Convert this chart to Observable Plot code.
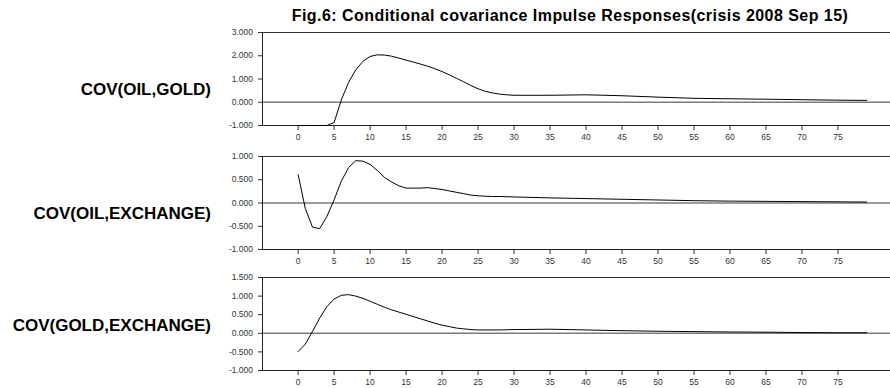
<!DOCTYPE html>
<html>
<head>
<meta charset="utf-8">
<script src="https://cdn.jsdelivr.net/npm/d3@7"></script>
<script src="https://cdn.jsdelivr.net/npm/@observablehq/plot@0.6"></script>
<style>
  body { margin: 0; background: white; }
  #wrap { position: relative; width: 890px; height: 388px; overflow: hidden; background: white; font-family: "Liberation Sans", Arial, sans-serif; }
  .title { position: absolute; left: 0; width: 1140px; top: 8px; text-align: center; font-weight: bold; font-size: 16px; line-height: 16px; letter-spacing: 0.45px; color: #000; white-space: nowrap; z-index: 2; }
  .rowlab { position: absolute; left: 0; width: 211px; text-align: right; font-weight: bold; font-size: 17px; line-height: 17px; color: #000; white-space: nowrap; z-index: 2; }
  .panel { position: absolute; left: 0; z-index: 1; }
</style>
</head>
<body>
<div id="wrap"></div>
<script>
// ---- data ----
const title = "Fig.6: Conditional covariance Impulse Responses(crisis 2008 Sep 15)";
const seriesNames = ["COV(OIL,GOLD)", "COV(OIL,EXCHANGE)", "COV(GOLD,EXCHANGE)"];
const xTicks = [0, 5, 10, 15, 20, 25, 30, 35, 40, 45, 50, 55, 60, 65, 70, 75];

const tOilGold = [0,1,2,3,4,5,6,7,8,9,10,11,12,13,14,15,16,17,18,19,20,21,22,23,24,25,26,27,28,29,30,35,40,45,50,55,60,65,70,75,79];
const vOilGold = [-1.0,-1.0,-1.0,-1.0,-1.0,-0.87,0.10,0.85,1.39,1.76,1.97,2.04,2.03,1.98,1.90,1.81,1.73,1.64,1.55,1.44,1.32,1.18,1.03,0.88,0.72,0.58,0.47,0.40,0.35,0.32,0.30,0.30,0.32,0.28,0.22,0.17,0.15,0.13,0.11,0.09,0.08];
const yTicksOilGold = [-1, 0, 1, 2, 3];

const tOilExch = [0,1,2,3,4,5,6,7,8,9,10,11,12,13,14,15,16,17,18,19,20,21,22,23,24,25,26,27,28,30,35,40,45,50,55,60,65,70,75,79];
const vOilExch = [0.61,-0.12,-0.52,-0.55,-0.29,0.07,0.47,0.76,0.91,0.90,0.83,0.70,0.55,0.45,0.37,0.32,0.32,0.32,0.33,0.31,0.29,0.26,0.23,0.20,0.17,0.155,0.145,0.14,0.14,0.13,0.11,0.095,0.08,0.065,0.05,0.04,0.035,0.03,0.025,0.02];
const yTicksOilExch = [-1, -0.5, 0, 0.5, 1];

const tGoldExch = [0,1,2,3,4,5,6,7,8,9,10,11,12,13,14,15,16,17,18,19,20,21,22,23,24,25,28,30,35,40,45,50,55,60,65,70,75,79];
const vGoldExch = [-0.49,-0.29,0.05,0.41,0.72,0.92,1.02,1.04,1.00,0.94,0.86,0.78,0.70,0.63,0.57,0.51,0.45,0.39,0.33,0.27,0.22,0.18,0.14,0.12,0.10,0.09,0.09,0.10,0.11,0.09,0.07,0.055,0.045,0.035,0.03,0.02,0.015,0.015];
const yTicksGoldExch = [-1, -0.5, 0, 0.5, 1, 1.5];

// ---- build ----
const wrap = document.getElementById("wrap");
const xDomain = [-4.95, 82.3];

function makePanel(ts, vs, yTicks, top, labelTop, name) {
  const data = ts.map((t, i) => ({t, v: vs[i]}));
  const yDomain = [yTicks[0], yTicks[yTicks.length - 1]];
  const chart = Plot.plot({
    width: 890,
    height: 123,
    marginLeft: 262,
    marginRight: 0,
    marginTop: 10,
    marginBottom: 20,
    style: {fontFamily: "'Liberation Sans', Arial, sans-serif", fontSize: "8.5px", color: "#333", background: "transparent", overflow: "visible"},
    x: {domain: xDomain, ticks: xTicks, tickSize: 5, tickPadding: 3, tickFormat: d => String(d), label: null},
    y: {domain: yDomain, ticks: yTicks, tickSize: 4, tickPadding: 5.5, tickFormat: d => d.toFixed(3), label: null},
    marks: [
      Plot.ruleY([yDomain[1]], {stroke: "#333", strokeWidth: 1}),
      Plot.ruleY([0], {stroke: "#7a7a7a", strokeWidth: 1.5}),
      Plot.ruleY([yDomain[0]], {stroke: "#222", strokeWidth: 1}),
      Plot.ruleX([xDomain[0]], {stroke: "#222", strokeWidth: 1}),
      Plot.line(data, {x: "t", y: "v", stroke: "#000", strokeWidth: 1})
    ]
  });
  const holder = document.createElement("div");
  holder.className = "panel";
  holder.style.top = top + "px";
  holder.appendChild(chart);
  wrap.appendChild(holder);

  const lab = document.createElement("div");
  lab.className = "rowlab";
  lab.style.top = labelTop + "px";
  lab.textContent = name;
  wrap.appendChild(lab);
}

makePanel(tOilGold, vOilGold, yTicksOilGold, 22, 81, seriesNames[0]);
makePanel(tOilExch, vOilExch, yTicksOilExch, 146, 205, seriesNames[1]);
makePanel(tGoldExch, vGoldExch, yTicksGoldExch, 267, 317, seriesNames[2]);

const t = document.createElement("div");
t.className = "title";
t.textContent = title;
wrap.appendChild(t);
</script>
</body>
</html>
